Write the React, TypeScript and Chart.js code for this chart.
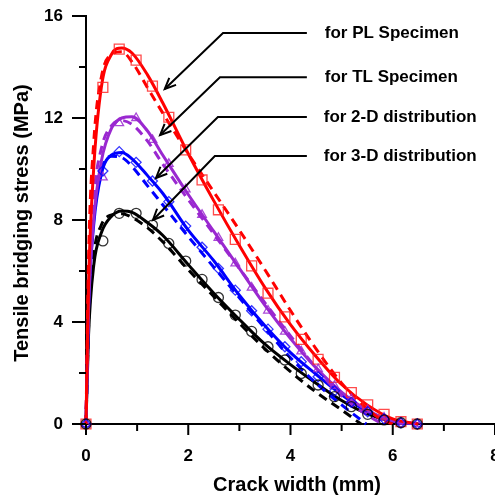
import React, { useEffect, useRef } from "react";
import { Chart, registerables } from "chart.js";

Chart.register(...registerables);

// ---- Experimental markers (crack width in mm, stress in MPa) ----
const EXP_X = [0, 0.33, 0.65, 0.98, 1.3, 1.62, 1.95, 2.27, 2.59, 2.92, 3.24, 3.56, 3.89, 4.21, 4.54, 4.86, 5.19, 5.51, 5.83, 6.16, 6.48];
const PL_EXP = [0, 13.2, 14.7, 14.27, 13.25, 12.03, 10.75, 9.57, 8.4, 7.24, 6.2, 5.13, 4.2, 3.32, 2.54, 1.83, 1.23, 0.75, 0.38, 0.09, 0];
const TL_EXP = [0, 9.67, 11.8, 12.0, 11.14, 10.2, 9.2, 8.2, 7.3, 6.3, 5.35, 4.45, 3.62, 2.85, 2.15, 1.5, 0.98, 0.55, 0.25, 0.07, 0];
const D2_EXP = [0, 9.92, 10.68, 10.26, 9.53, 8.72, 7.76, 6.93, 6.1, 5.25, 4.44, 3.72, 3.03, 2.44, 1.85, 1.3, 0.85, 0.48, 0.2, 0.05, 0];
const D3_EXP = [0, 7.18, 8.26, 8.26, 7.8, 7.08, 6.39, 5.67, 4.96, 4.27, 3.63, 3.03, 2.51, 1.98, 1.53, 1.07, 0.68, 0.38, 0.16, 0.05, 0];

// ---- Solid curves ----
const SOLID_X = [0, 0.05, 0.15, 0.3, 0.5, 0.7, 0.9, 1.2, 1.5, 2.0, 2.5, 3.0, 3.5, 4.0, 4.5, 5.0, 5.5, 6.0, 6.5];
const PL_SOLID = [0, 5.5, 10, 13.2, 14.5, 14.75, 14.55, 13.7, 12.6, 10.6, 8.75, 7.0, 5.35, 3.9, 2.65, 1.55, 0.75, 0.2, 0];
const TL_SOLID = [0, 4.5, 8.0, 10.3, 11.6, 12.0, 12.05, 11.5, 10.55, 9.0, 7.55, 6.1, 4.65, 3.35, 2.2, 1.25, 0.55, 0.12, 0];
const D2_SOLID = [0, 4.5, 7.8, 9.8, 10.55, 10.65, 10.4, 9.75, 9.05, 7.6, 6.4, 5.05, 3.85, 2.8, 1.95, 1.15, 0.5, 0.12, 0];
const D3_SOLID = [0, 3.5, 6.2, 7.5, 8.15, 8.35, 8.3, 7.9, 7.4, 6.25, 5.13, 4.1, 3.13, 2.33, 1.6, 0.92, 0.4, 0.1, 0];

// ---- Dashed curves ----
const PL_DASH_X = [0, 0.05, 0.15, 0.3, 0.5, 0.7, 0.9, 1.2, 1.5, 2.0, 2.5, 3.0, 3.5, 4.0, 4.5, 5.0, 5.5, 5.8, 6.0];
const PL_DASH = [0, 6.5, 11, 13.6, 14.5, 14.6, 14.2, 13.2, 12.2, 10.6, 9.1, 7.6, 6.05, 4.45, 2.95, 1.6, 0.6, 0.15, 0];
const TL_DASH_X = [0, 0.05, 0.15, 0.3, 0.5, 0.7, 0.9, 1.2, 1.5, 2.0, 2.5, 3.0, 3.5, 4.0, 4.5, 5.0, 5.5, 5.8];
const TL_DASH = [0, 5, 8.8, 10.8, 11.7, 11.9, 11.75, 11.1, 10.2, 8.8, 7.45, 6.1, 4.75, 3.45, 2.2, 1.1, 0.35, 0];
const D2_DASH_X = [0, 0.05, 0.15, 0.3, 0.5, 0.7, 0.9, 1.2, 1.5, 2.0, 2.5, 3.0, 3.5, 4.0, 4.5, 5.0, 5.48];
const D2_DASH = [0, 5, 8.5, 10.0, 10.5, 10.45, 10.1, 9.35, 8.6, 7.35, 6.15, 4.95, 3.75, 2.6, 1.6, 0.75, 0];
const D3_DASH_X = [0, 0.05, 0.15, 0.3, 0.5, 0.7, 0.9, 1.2, 1.5, 2.0, 2.5, 3.0, 3.5, 4.0, 4.5, 5.0, 5.38];
const D3_DASH = [0, 3.8, 6.6, 7.8, 8.2, 8.25, 8.1, 7.7, 7.15, 6.05, 5.0, 3.95, 2.95, 2.05, 1.25, 0.55, 0];

// ---- Axis ticks ----
const X_MAJOR = [0, 2, 4, 6, 8];
const X_MINOR = [1, 3, 5, 7];
const Y_MAJOR = [0, 4, 8, 12, 16];
const Y_MINOR = [2, 6, 10, 14];

const X_TITLE = "Crack width (mm)";
const Y_TITLE = "Tensile bridging stress (MPa)";

// annotation labels with leader arrows (data coordinates)
const ANNOTATIONS = [
  { text: "for PL Specimen", y: 15.33, textX: 4.67, elbowX: 2.68, endX: 4.32, tipX: 1.54, tipY: 13.14 },
  { text: "for TL Specimen", y: 13.6, textX: 4.67, elbowX: 2.62, endX: 4.32, tipX: 1.45, tipY: 11.33 },
  { text: "for 2-D distribution", y: 12.04, textX: 4.65, elbowX: 2.58, endX: 4.32, tipX: 1.37, tipY: 9.65 },
  { text: "for 3-D distribution", y: 10.51, textX: 4.65, elbowX: 2.52, endX: 4.32, tipX: 1.31, tipY: 8.0 },
];

const FONT = "'Liberation Sans', Arial, sans-serif";

const pts = (xs: number[], ys: number[]) => xs.map((x, i) => ({ x, y: ys[i] }));

const SERIES = [
  { key: "PL", color: "#ff0000", marker: "rgba(255,30,30,0.8)", style: "rect", radius: 7, exp: PL_EXP, sx: SOLID_X, sy: PL_SOLID, dx: PL_DASH_X, dy: PL_DASH },
  { key: "TL", color: "#9a28d0", marker: "rgba(154,40,208,0.85)", style: "triangle", radius: 5, exp: TL_EXP, sx: SOLID_X, sy: TL_SOLID, dx: TL_DASH_X, dy: TL_DASH },
  { key: "2-D", color: "#0000ff", marker: "rgba(0,0,255,0.8)", style: "rectRot", radius: 5, exp: D2_EXP, sx: SOLID_X, sy: D2_SOLID, dx: D2_DASH_X, dy: D2_DASH },
  { key: "3-D", color: "#000000", marker: "rgba(0,0,0,0.8)", style: "circle", radius: 5, exp: D3_EXP, sx: SOLID_X, sy: D3_SOLID, dx: D3_DASH_X, dy: D3_DASH },
];

const decorPlugin = {
  id: "decor",
  afterDraw(chart: any) {
    const { ctx, chartArea } = chart;
    const xs = chart.scales.x;
    const ys = chart.scales.y;
    ctx.save();
    ctx.strokeStyle = "#000";
    ctx.lineWidth = 2;
    const seg = (x1: number, y1: number, x2: number, y2: number) => {
      ctx.beginPath();
      ctx.moveTo(x1, y1);
      ctx.lineTo(x2, y2);
      ctx.stroke();
    };
    for (const v of X_MAJOR) {
      const p = xs.getPixelForValue(v);
      seg(p, chartArea.bottom, p, chartArea.bottom + 11);
    }
    for (const v of X_MINOR) {
      const p = xs.getPixelForValue(v);
      seg(p, chartArea.bottom, p, chartArea.bottom + 7);
    }
    for (const v of Y_MAJOR) {
      const p = ys.getPixelForValue(v);
      seg(chartArea.left - 14, p, chartArea.left, p);
    }
    for (const v of Y_MINOR) {
      const p = ys.getPixelForValue(v);
      seg(chartArea.left - 7, p, chartArea.left, p);
    }

    // axis titles
    ctx.fillStyle = "#000";
    ctx.font = `bold 20px ${FONT}`;
    ctx.textAlign = "center";
    ctx.textBaseline = "alphabetic";
    ctx.fillText(X_TITLE, 297, 491);
    ctx.save();
    ctx.translate(28, 223);
    ctx.rotate(-Math.PI / 2);
    ctx.fillText(Y_TITLE, 0, 0);
    ctx.restore();

    // annotations
    ctx.lineWidth = 2;
    ctx.font = `bold 17px ${FONT}`;
    ctx.textAlign = "left";
    ctx.textBaseline = "middle";
    for (const a of ANNOTATIONS) {
      const py = ys.getPixelForValue(a.y);
      const ex = xs.getPixelForValue(a.elbowX);
      const endx = xs.getPixelForValue(a.endX);
      const tx = xs.getPixelForValue(a.tipX);
      const ty = ys.getPixelForValue(a.tipY);
      ctx.beginPath();
      ctx.moveTo(endx, py);
      ctx.lineTo(ex, py);
      ctx.lineTo(tx, ty);
      ctx.stroke();
      const ang = Math.atan2(py - ty, ex - tx);
      const L = 12;
      ctx.beginPath();
      ctx.moveTo(tx + L * Math.cos(ang + 0.42), ty + L * Math.sin(ang + 0.42));
      ctx.lineTo(tx, ty);
      ctx.lineTo(tx + L * Math.cos(ang - 0.42), ty + L * Math.sin(ang - 0.42));
      ctx.stroke();
      ctx.fillText(a.text, xs.getPixelForValue(a.textX), py);
    }
    ctx.restore();
  },
};

export default function App() {
  const ref = useRef<HTMLCanvasElement | null>(null);

  useEffect(() => {
    if (!ref.current) return;
    const datasets: any[] = [];
    // markers first (drawn on top)
    [...SERIES].reverse().forEach((s) => {
      datasets.push({
        label: `${s.key} experiment`,
        data: pts(EXP_X, s.exp),
        showLine: false,
        pointStyle: s.style,
        pointRadius: s.radius,
        pointBorderColor: s.marker,
        pointBackgroundColor: "rgba(0,0,0,0)",
        pointBorderWidth: 1.3,
        clip: false,
      });
    });
    SERIES.forEach((s) => {
      datasets.push({
        label: `${s.key} solid`,
        data: pts(s.sx, s.sy),
        borderColor: s.color,
        borderWidth: 3,
        pointRadius: 0,
        cubicInterpolationMode: "monotone",
        fill: false,
        clip: false,
      });
      datasets.push({
        label: `${s.key} dashed`,
        data: pts(s.dx, s.dy),
        borderColor: s.color,
        borderWidth: 3,
        borderDash: [9, 6],
        pointRadius: 0,
        cubicInterpolationMode: "monotone",
        fill: false,
        clip: false,
      });
    });

    const chart = new Chart(ref.current, {
      type: "line",
      data: { datasets },
      options: {
        animation: false,
        responsive: false,
        maintainAspectRatio: false,
        devicePixelRatio: 1,
        layout: { autoPadding: false, padding: { top: 16, left: 0, right: 0, bottom: 0 } },
        plugins: { legend: { display: false }, tooltip: { enabled: false }, title: { display: false } },
        scales: {
          x: {
            type: "linear",
            min: 0,
            max: 8,
            afterFit: (s: any) => {
              s.height = 76;
              s.paddingLeft = 0;
              s.paddingRight = 0;
            },
            ticks: {
              stepSize: 2,
              padding: 12,
              color: "#000",
              font: { family: FONT, size: 17, weight: "bold" },
              maxRotation: 0,
            },
            grid: { display: true, drawOnChartArea: false, drawTicks: true, tickLength: 10, tickColor: "rgba(0,0,0,0)" },
            border: { display: true, color: "#000", width: 2 },
          },
          y: {
            type: "linear",
            min: 0,
            max: 16,
            afterFit: (s: any) => {
              s.width = 86;
              s.paddingTop = 0;
              s.paddingBottom = 0;
            },
            ticks: {
              stepSize: 4,
              padding: 9,
              color: "#000",
              font: { family: FONT, size: 17, weight: "bold" },
            },
            grid: { display: true, drawOnChartArea: false, drawTicks: true, tickLength: 14, tickColor: "rgba(0,0,0,0)" },
            border: { display: true, color: "#000", width: 2 },
          },
        },
      },
      plugins: [decorPlugin],
    });
    return () => chart.destroy();
  }, []);

  return (
    <div style={{ position: "fixed", left: 0, top: 0, width: 495, height: 500, background: "#fff" }}>
      <canvas ref={ref} width={495} height={500} style={{ width: 495, height: 500, display: "block" }} />
    </div>
  );
}
